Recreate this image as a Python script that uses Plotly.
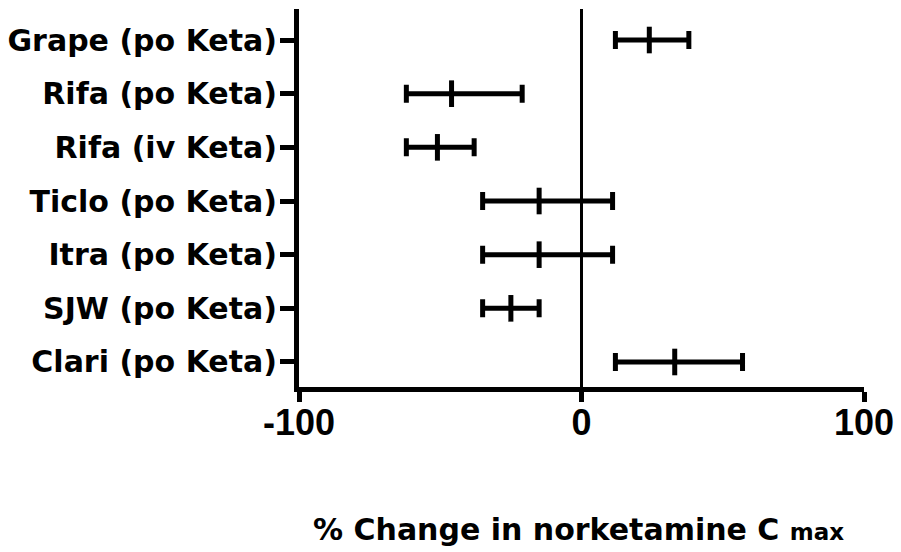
import plotly.graph_objects as go

# Interaction studies, listed top to bottom
studies = [
    "Grape (po Keta)",
    "Rifa (po Keta)",
    "Rifa (iv Keta)",
    "Ticlo (po Keta)",
    "Itra (po Keta)",
    "SJW (po Keta)",
    "Clari (po Keta)",
]
# % change in norketamine Cmax: point estimate with lower / upper limits
center = [24, -46, -51, -15, -15, -25, 33]
lower = [12, -62, -62, -35, -35, -35, 12]
upper = [38, -21, -38, 11, 11, -15, 57]

x_ticks = [-100, 0, 100]

# first study at the top
ypos = list(range(len(studies) - 1, -1, -1))

label_font = dict(family="DejaVu Sans", size=30, color="black", weight="bold")
num_font = dict(family="Liberation Sans, Arial, sans-serif", size=36,
                color="black", weight="bold")

fig = go.Figure()
fig.add_trace(go.Scatter(
    x=center,
    y=ypos,
    mode="markers",
    marker=dict(symbol="line-ns", size=19, color="black",
                line=dict(width=5, color="black")),
    error_x=dict(
        type="data",
        symmetric=False,
        array=[u - c for u, c in zip(upper, center)],
        arrayminus=[c - l for c, l in zip(center, lower)],
        color="black",
        thickness=5,
        width=9,
    ),
    showlegend=False,
    hoverinfo="skip",
))

fig.update_layout(
    width=901,
    height=552,
    margin=dict(l=299, r=37, t=9, b=165),
    paper_bgcolor="white",
    plot_bgcolor="white",
    xaxis=dict(
        range=[-100, 100],
        tickvals=x_ticks,
        ticktext=[str(v) for v in x_ticks],
        tickfont=num_font,
        showgrid=False,
        zeroline=True,
        zerolinecolor="black",
        zerolinewidth=3,
        showline=True,
        linecolor="black",
        linewidth=5,
        ticks="outside",
        ticklen=10,
        tickwidth=5,
        tickcolor="black",
        ticklabelstandoff=-10,
        automargin=False,
    ),
    yaxis=dict(
        range=[-0.466, 6.578],
        tickvals=ypos,
        ticktext=studies,
        tickfont=label_font,
        showgrid=False,
        zeroline=False,
        showline=True,
        linecolor="black",
        linewidth=5,
        ticks="outside",
        ticklen=14,
        tickwidth=5,
        tickcolor="black",
        ticklabelstandoff=-3,
        automargin=False,
    ),
    annotations=[dict(
        text="% Change in norketamine C <span style='font-size:23px'>max</span>",
        xref="paper", yref="paper",
        x=0.494, y=-0.376,
        xanchor="center", yanchor="middle",
        showarrow=False,
        font=dict(family="DejaVu Sans", size=30, color="black", weight="bold"),
    )],
)

fig.write_html("out.html")
